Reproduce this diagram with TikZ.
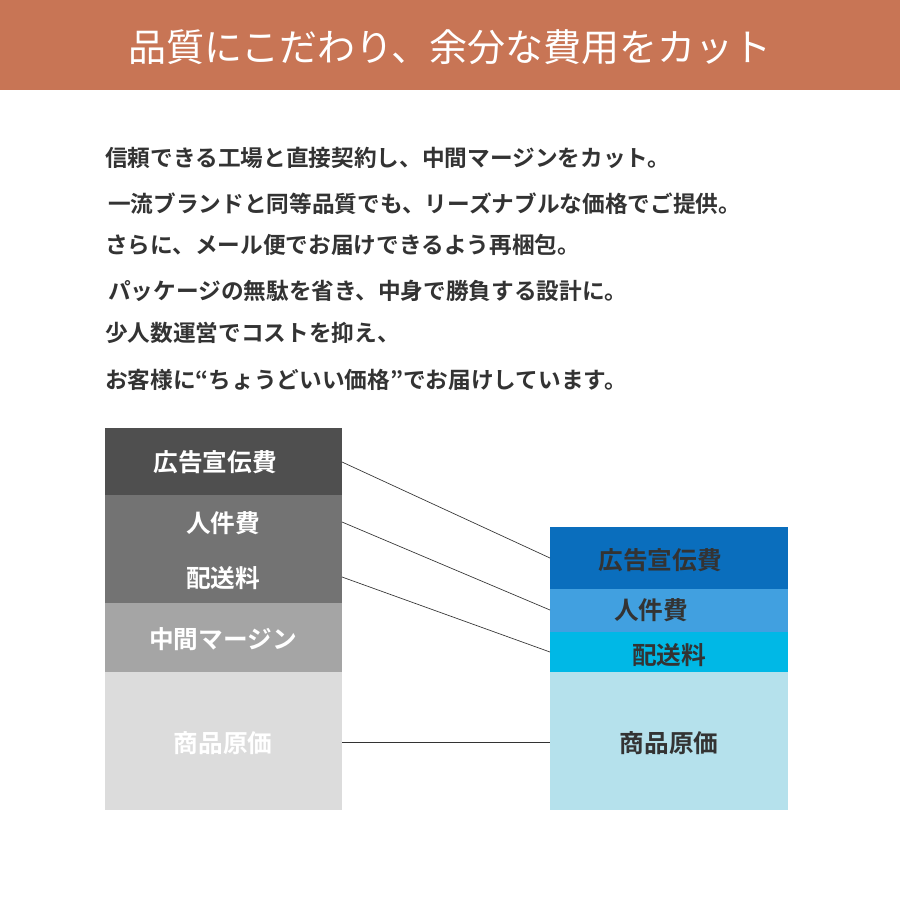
\documentclass[tikz,border=0pt]{standalone}
\usepackage{fontspec}
\setmainfont{Noto Sans CJK JP}[BoldFont={* Bold}]
\definecolor{hdr}{HTML}{C87555}
\definecolor{g1}{HTML}{4F4F4F}
\definecolor{g2}{HTML}{737373}
\definecolor{g3}{HTML}{A5A5A5}
\definecolor{g4}{HTML}{DCDCDC}
\definecolor{b1}{HTML}{0A6EBD}
\definecolor{b2}{HTML}{41A0E0}
\definecolor{b3}{HTML}{00B8E6}
\definecolor{b4}{HTML}{B5E1EC}
\definecolor{tx}{HTML}{333333}
\begin{document}
\begin{tikzpicture}[x=0.75pt,y=-0.75pt,
  body/.style={anchor=west,inner sep=0,font=\bfseries\fontsize{17pt}{19pt}\selectfont,text=tx},
  lt/.style={inner sep=0,font=\bfseries\fontsize{18.5pt}{20pt}\selectfont,text=white},
  rt/.style={inner sep=0,font=\bfseries\fontsize{18.5pt}{20pt}\selectfont,text=tx},
  con/.style={draw=black!80,line width=0.5pt}]
\useasboundingbox (0,0) rectangle (900,900);
\fill[white] (0,0) rectangle (900,900);
\fill[hdr] (0,0) rectangle (900,90);
\node[inner sep=0,text=white,font=\fontsize{28.5pt}{30pt}\selectfont] (title) at (450,47) {品質にこだわり、余分な費用をカット};
\node[body] (l1) at (105,158) {信頼できる工場と直接契約し、中間マージンをカット。};
\node[body] (l2) at (108,204) {一流ブランドと同等品質でも、リーズナブルな価格でご提供。};
\node[body] (l3) at (105,245) {さらに、メール便でお届けできるよう再梱包。};
\node[body] (l4) at (108,291) {パッケージの無駄を省き、中身で勝負する設計に。};
\node[body] (l5) at (105,333) {少人数運営でコストを抑え、};
\node[body] (l6) at (105,380) {お客様に“ちょうどいい価格”でお届けしています。};
% left
\fill[g1] (105,428) rectangle (342,495);
\fill[g2] (105,495) rectangle (342,603);
\fill[g3] (105,603) rectangle (342,672);
\fill[g4] (105,672) rectangle (342,810);
\node[lt] (la) at (215,462) {広告宣伝費};
\node[lt] (lb) at (223,523) {人件費};
\node[lt] (lc) at (223,578) {配送料};
\node[lt] (ld) at (223,639) {中間マージン};
\node[lt] (le) at (223,743) {商品原価};
% right
\fill[b1] (550,527) rectangle (788,589);
\fill[b2] (550,589) rectangle (788,632);
\fill[b3] (550,632) rectangle (788,672);
\fill[b4] (550,672) rectangle (788,810);
\node[rt] (ra) at (660,560) {広告宣伝費};
\node[rt] (rb) at (651,610) {人件費};
\node[rt] (rc) at (669,655) {配送料};
\node[rt] (re) at (669,743) {商品原価};
\coordinate (p1) at (342,462); \coordinate (q1) at (550,558);
\coordinate (p2) at (342,522); \coordinate (q2) at (550,610);
\coordinate (p3) at (342,577); \coordinate (q3) at (550,652);
\coordinate (p4) at (342,742); \coordinate (q4) at (550,742);
\draw[con] (p1) -- (q1);
\draw[con] (p2) -- (q2);
\draw[con] (p3) -- (q3);
\draw[con] (p4) -- (q4);
\end{tikzpicture}
\end{document}
